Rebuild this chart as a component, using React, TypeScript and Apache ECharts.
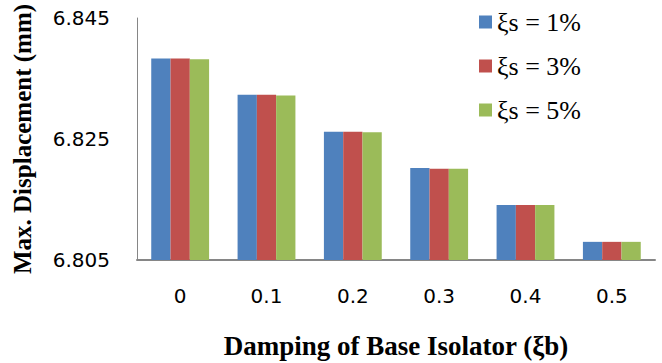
import React, { useEffect, useRef } from "react";
import * as echarts from "echarts";

const categories = ["0", "0.1", "0.2", "0.3", "0.4", "0.5"];
const seriesNames = ["ξs = 1%", "ξs = 3%", "ξs = 5%"];
const xis1 = [6.8383, 6.8323, 6.8262, 6.8202, 6.8141, 6.808];
const xis3 = [6.8383, 6.8323, 6.8262, 6.8201, 6.8141, 6.808];
const xis5 = [6.8382, 6.8322, 6.8261, 6.8201, 6.8141, 6.808];
const colors = ["#4F81BD", "#C0504D", "#9BBB59"];
const yTicks = { min: 6.805, max: 6.845, interval: 0.02 };

export default function App() {
  const ref = useRef<HTMLDivElement>(null);
  useEffect(() => {
    if (!ref.current) return;
    const chart = echarts.init(ref.current, undefined, { renderer: "svg" });
    const data = [xis1, xis3, xis5];
    chart.setOption({
      animation: false,
      backgroundColor: "#ffffff",
      textStyle: { fontFamily: "Liberation Serif" },
      grid: {
        left: 137,
        right: 7,
        top: 18,
        bottom: 103,
        containLabel: false,
        outerBoundsMode: "none",
      },
      legend: {
        orient: "vertical",
        left: 474,
        top: 4,
        itemWidth: 13,
        itemHeight: 13,
        itemGap: 18,
        icon: "rect",
        textStyle: { fontFamily: "Liberation Serif", fontSize: 26, color: "#000" },
        data: seriesNames,
      },
      xAxis: {
        type: "category",
        data: categories,
        name: "Damping of Base Isolator (ξb)",
        nameLocation: "middle",
        nameGap: 72,
        nameTextStyle: { fontFamily: "Liberation Serif", fontWeight: "bold", fontSize: 27, color: "#000" },
        axisLine: { lineStyle: { color: "#868686", width: 2 } },
        axisTick: { show: false },
        axisLabel: { margin: 26, fontFamily: "DejaVu Sans", fontSize: 20, color: "#000" },
      },
      yAxis: {
        type: "value",
        min: yTicks.min,
        max: yTicks.max,
        interval: yTicks.interval,
        name: "Max. Displacement (mm)",
        nameLocation: "middle",
        nameGap: 102,
        nameTextStyle: { fontFamily: "Liberation Serif", fontWeight: "bold", fontSize: 25, color: "#000" },
        axisLine: { show: true, lineStyle: { color: "#868686", width: 1 } },
        axisTick: { show: false },
        splitLine: { show: false },
        axisLabel: {
          margin: 27,
          fontFamily: "DejaVu Sans",
          fontSize: 20,
          color: "#000",
          formatter: (v: number) => v.toFixed(3),
        },
      },
      series: data.map((d, i) => ({
        name: seriesNames[i],
        type: "bar",
        data: d,
        barGap: "0%",
        barCategoryGap: "33%",
        itemStyle: { color: colors[i] },
      })),
    });
    return () => chart.dispose();
  }, []);
  return (
    <div
      ref={ref}
      style={{ position: "fixed", left: 0, top: 0, width: 662, height: 363 }}
    />
  );
}
